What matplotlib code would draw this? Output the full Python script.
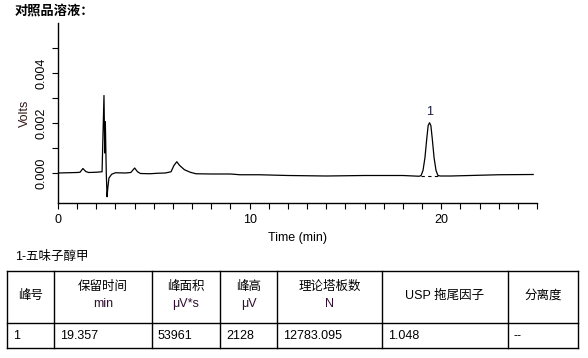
import numpy as np
import matplotlib
matplotlib.use("Agg")
import matplotlib.pyplot as plt

plt.rcParams['font.family'] = ['Liberation Sans', 'Noto Sans CJK SC', 'DejaVu Sans']

# chromatogram trace (min, volts)
time_min = [0.0, 0.5, 1.0, 1.15, 1.3, 1.45, 1.6, 2.0, 2.3, 2.35, 2.40, 2.44, 2.47, 2.52,
            2.56, 2.60, 2.66, 2.8, 3.0, 3.5, 3.8, 4.0, 4.15, 4.3, 4.8, 5.2, 5.6, 5.9,
            6.05, 6.2, 6.35, 6.6, 6.9, 7.2, 8.0, 9.0, 9.5, 10.5, 12.0, 14.0, 16.0, 18.0,
            18.85, 18.95, 19.05, 19.15, 19.25, 19.32, 19.39, 19.46, 19.53, 19.63, 19.73,
            19.83, 19.95, 20.5, 21.5, 23.0, 24.8]
volts = [0.0, 0.00001, 0.00002, 0.00003, 0.00018, 0.00006, 0.00002, 0.00003, 0.00005,
         0.0016, 0.0031, 0.0008, 0.00205, 0.0, -0.00095, -0.0006, -0.0002, -0.00005,
         0.00001, 0.0, 0.00002, 0.0002, 0.00005, -0.00002, -0.00003, -0.00001, 0.0,
         0.00005, 0.0003, 0.00045, 0.0003, 0.00013, 0.00003, -0.00003, -0.00004,
         -0.00004, -0.00007, -0.00007, -0.0001, -0.00012, -0.0001, -0.0001,
         -0.00013, -0.0001, 0.0001, 0.0006, 0.0014, 0.0019, 0.00201, 0.0019, 0.0014,
         0.0006, 0.0001, -0.0001, -0.00012, -0.00012, -0.0001, -0.00007, -0.00006]

peak_labels = ["1"]
peak_rt = [19.39]
peak_top = [0.00201]
peak_base_start = [18.92, -0.00012]
peak_base_end = [19.88, -0.00012]

table_title = "1-五味子醇甲"
col_headers = ["峰号", "保留时间", "峰面积", "峰高", "理论塔板数", "USP 拖尾因子", "分离度"]
col_units = ["", "min", "μV*s", "μV", "N", "", ""]
row_values = ["1", "19.357", "53961", "2128", "12783.095", "1.048", "--"]

W, H = 588, 358
fig = plt.figure(figsize=(W / 100, H / 100), dpi=100)
ax = fig.add_axes([58 / W, 1 - 203 / H, (537 - 58) / W, (203 - 23) / H])

ax.plot(time_min, volts, color='black', lw=0.9)
ax.plot([peak_base_start[0], peak_base_end[0]], [peak_base_start[1], peak_base_end[1]],
        color='black', lw=0.8, ls=(0, (3, 3)))
for lab, x, y in zip(peak_labels, peak_rt, peak_top):
    ax.text(x, y + 0.00018, lab, ha='center', va='bottom', fontsize=9, color='#1a1a40')

ax.set_xlim(0, 25)
ax.set_ylim(-0.0012, 0.006)
ax.set_xticks([0, 10, 20])
ax.set_xticks(np.arange(0, 26, 1), minor=True)
ax.set_yticks([0.0, 0.002, 0.004])
ax.set_yticklabels(["0.000", "0.002", "0.004"])
ax.set_yticks([0.001, 0.003, 0.005], minor=True)
ax.tick_params(which='both', direction='out', length=4.5, width=0.8, labelsize=9)
ax.tick_params(axis='y', labelrotation=90, pad=3)
for lbl in ax.get_yticklabels():
    lbl.set_va('center')
ax.spines['top'].set_visible(False)
ax.spines['right'].set_visible(False)
ax.spines['left'].set_linewidth(1.0)
ax.spines['bottom'].set_linewidth(1.0)
ax.set_xlabel("Time (min)", fontsize=9, labelpad=4)
ax.set_ylabel("Volts", fontsize=9, labelpad=3, color='#301818')

fig.text(15 / W, 1 - 12 / H, "对照品溶液：", fontsize=9.5, fontweight='bold', va='center', ha='left')

# table drawn in a pixel-coordinate overlay
tax = fig.add_axes([0, 0, 1, 1])
tax.set_xlim(0, W)
tax.set_ylim(H, 0)
tax.axis('off')

col_edges = [7, 54, 152, 220, 277, 382, 508, 578]
row_edges = [271, 323, 348]
for x in col_edges:
    tax.plot([x, x], [row_edges[0], row_edges[-1]], color='black', lw=1.0)
for y in row_edges:
    tax.plot([col_edges[0], col_edges[-1]], [y, y], color='black', lw=1.0)

tax.text(15, 257, table_title, fontsize=9, va='center', ha='left')
for i in range(len(col_headers)):
    cx = (col_edges[i] + col_edges[i + 1]) / 2
    if col_units[i]:
        tax.text(cx, 287, col_headers[i], fontsize=9, ha='center', va='center')
        tax.text(cx, 304, col_units[i], fontsize=9, ha='center', va='center', color='#301030')
    else:
        tax.text(cx, 296, col_headers[i], fontsize=9, ha='center', va='center')
    tax.text(col_edges[i] + 6, 336, row_values[i], fontsize=9, ha='left', va='center')

fig.savefig("out.png", dpi=100)
